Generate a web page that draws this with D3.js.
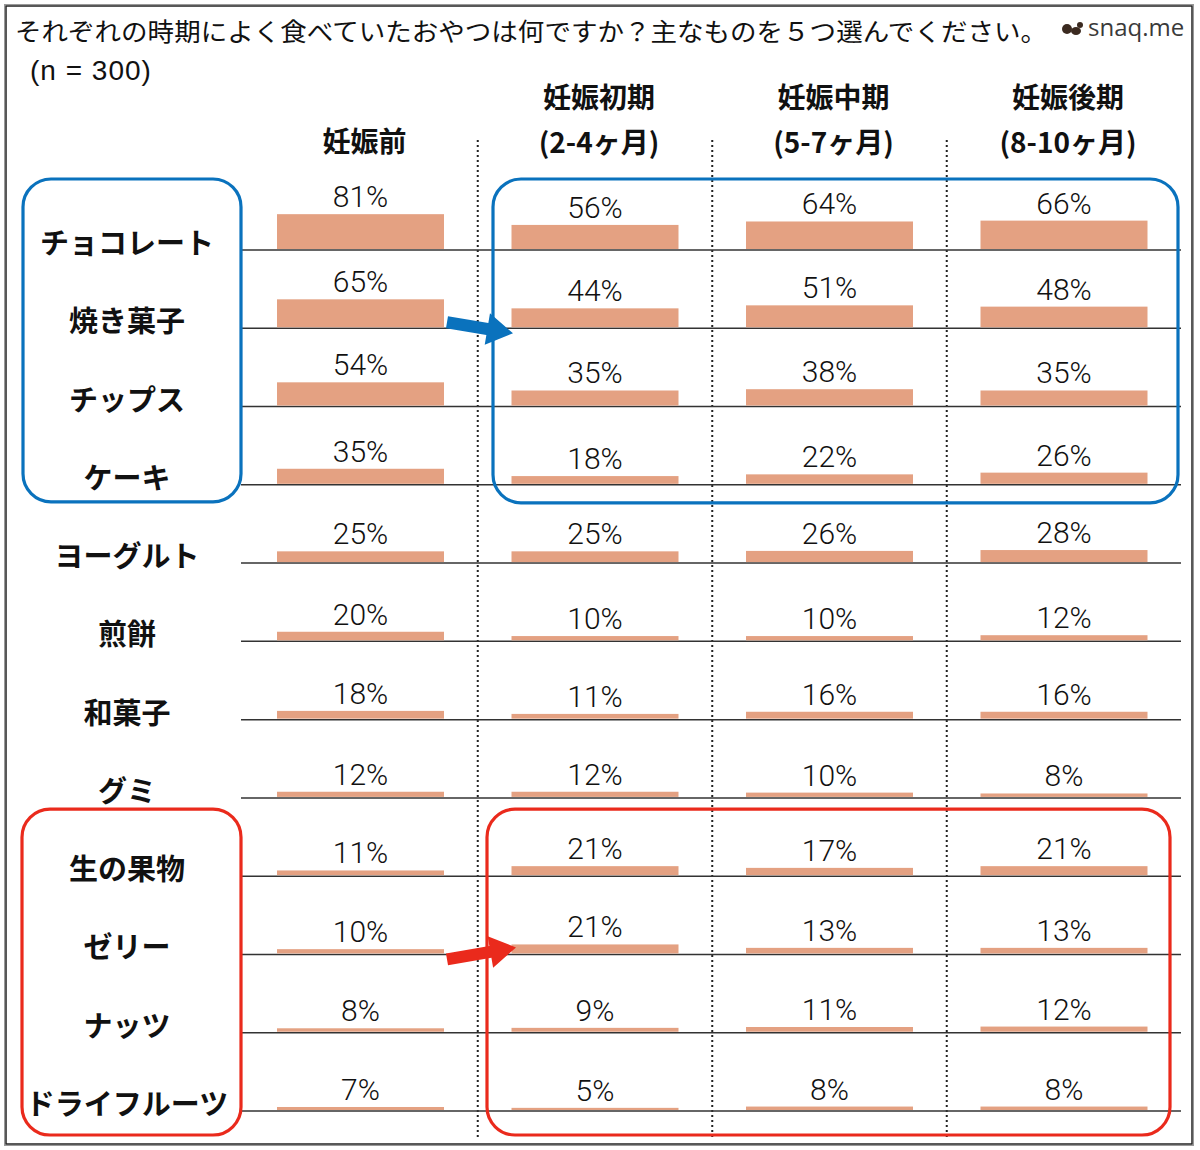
<!DOCTYPE html>
<html>
<head>
<meta charset="utf-8">
<script src="https://cdn.jsdelivr.net/npm/d3@7"></script>
<style>
  html, body { margin: 0; padding: 0; background: #fff; }
  svg { display: block; }
</style>
</head>
<body>
<svg id="chart" width="1200" height="1150"></svg>
<script>
// ---------- data ----------
const title = "それぞれの時期によく食べていたおやつは何ですか？主なものを５つ選んでください。";
const sampleNote = "(n = 300)";
const categories = ["チョコレート", "焼き菓子", "チップス", "ケーキ", "ヨーグルト", "煎餅", "和菓子", "グミ", "生の果物", "ゼリー", "ナッツ", "ドライフルーツ"];
const periods = ["before", "early", "mid", "late"];
const periodLabels = [["妊娠前"], ["妊娠初期", "(2-4ヶ月)"], ["妊娠中期", "(5-7ヶ月)"], ["妊娠後期", "(8-10ヶ月)"]];
const valuesBefore = [81, 65, 54, 35, 25, 20, 18, 12, 11, 10, 8, 7];
const valuesEarly  = [56, 44, 35, 18, 25, 10, 11, 12, 21, 21, 9, 5];
const valuesMid    = [64, 51, 38, 22, 26, 10, 16, 10, 17, 13, 11, 8];
const valuesLate   = [66, 48, 35, 26, 28, 12, 16, 8, 21, 13, 12, 8];
const seriesValues = [valuesBefore, valuesEarly, valuesMid, valuesLate];

// ---------- layout ----------
const svg = d3.select("#chart");
const BAR_COLOR = "#E4A182";
const BLUE = "#0A72BD";
const RED = "#EA2A1C";
const barW = 167;

const xCol = d3.scalePoint().domain(periods).range([360.5, 1064]);
const yRow = d3.scalePoint().domain(categories).range([250, 1111]);
const hScale = d3.scaleLinear().domain([0, 100]).range([0, 43]);

const jp = "'Noto Sans CJK JP', 'Noto Sans', sans-serif";
const num = "'Roboto', 'Liberation Sans', sans-serif";

// outer frame
svg.append("rect").attr("x", 4.5).attr("y", 4.5).attr("width", 1189).attr("height", 1141)
  .attr("fill", "none").attr("stroke", "#999").attr("stroke-width", 1);
svg.append("rect").attr("x", 6).attr("y", 6).attr("width", 1186).attr("height", 1138)
  .attr("fill", "none").attr("stroke", "#222").attr("stroke-width", 1.5);

// title
svg.append("text").attr("x", 15).attr("y", 41)
  .attr("font-family", jp).attr("font-size", 25).attr("fill", "#111")
  .attr("textLength", 1032).attr("lengthAdjust", "spacingAndGlyphs")
  .text(title);
svg.append("text").attr("x", 30).attr("y", 80)
  .attr("font-family", "'Liberation Sans', sans-serif").attr("font-size", 28).attr("fill", "#111")
  .attr("letter-spacing", 1)
  .text(sampleNote);

// logo
const logo = svg.append("g").attr("transform", "translate(1063,28)");
logo.append("ellipse").attr("cx", 4).attr("cy", 1).attr("rx", 5).attr("ry", 5).attr("fill", "#3b2a20");
logo.append("ellipse").attr("cx", 13).attr("cy", 3).attr("rx", 5).attr("ry", 4).attr("fill", "#3b2a20");
logo.append("circle").attr("cx", 17).attr("cy", -3).attr("r", 3).attr("fill", "#3b2a20");
svg.append("text").attr("x", 1088).attr("y", 36)
  .attr("font-family", "'Open Sans', 'Liberation Sans', sans-serif").attr("font-size", 24)
  .attr("fill", "#3a3a3a").text("snaq.me");

// column headers
periods.forEach((p, i) => {
  const lines = periodLabels[i];
  const g = svg.append("text")
    .attr("font-family", jp).attr("font-weight", 700).attr("font-size", 28)
    .attr("fill", "#111").attr("text-anchor", "middle");
  lines.forEach((ln, j) => {
    const yy = lines.length === 1 ? 152 : 108 + j * 45;
    g.append("tspan").attr("x", xCol(p) + 4).attr("y", yy).text(ln);
  });
});

// dotted separators between columns
const seps = d3.pairs(periods).map(([a, b]) => (xCol(a) + xCol(b)) / 2);
svg.selectAll("line.sep").data(seps).join("line").attr("class", "sep")
  .attr("x1", d => d).attr("x2", d => d).attr("y1", 140).attr("y2", 1140)
  .attr("stroke", "#222").attr("stroke-width", 2).attr("stroke-dasharray", "2,3");

// row baselines
svg.selectAll("line.row").data(categories).join("line").attr("class", "row")
  .attr("x1", 241).attr("x2", 1181)
  .attr("y1", d => yRow(d)).attr("y2", d => yRow(d))
  .attr("stroke", "#333").attr("stroke-width", 1.5);

// row labels
svg.selectAll("text.cat").data(categories).join("text").attr("class", "cat")
  .attr("x", 127).attr("y", d => yRow(d) + 4)
  .attr("text-anchor", "middle")
  .attr("font-family", jp).attr("font-weight", 700).attr("font-size", 29).attr("fill", "#111")
  .text(d => d);

// bars + labels
const cells = [];
periods.forEach((p, i) => categories.forEach((c, j) => cells.push({ p, c, v: seriesValues[i][j] })));

svg.selectAll("rect.bar").data(cells).join("rect").attr("class", "bar")
  .attr("x", d => xCol(d.p) - barW / 2).attr("width", barW)
  .attr("y", d => yRow(d.c) - 1 - hScale(d.v)).attr("height", d => hScale(d.v))
  .attr("fill", BAR_COLOR);

svg.selectAll("text.val").data(cells).join("text").attr("class", "val")
  .attr("x", d => xCol(d.p)).attr("y", d => yRow(d.c) - 1 - hScale(d.v) - 7)
  .attr("text-anchor", "middle")
  .attr("font-family", num).attr("font-weight", 300).attr("font-size", 30).attr("fill", "#111")
  .text(d => d.v + "%");

// highlight boxes
function box(x0, x1, cTop, cBot, topOff, botOff, color) {
  svg.append("rect")
    .attr("x", x0).attr("y", yRow(cTop) - topOff)
    .attr("width", x1 - x0).attr("height", yRow(cBot) + botOff - (yRow(cTop) - topOff))
    .attr("rx", 28).attr("ry", 28)
    .attr("fill", "none").attr("stroke", color).attr("stroke-width", 3.2);
}
box(23, 241, categories[0], categories[3], 71, 17, BLUE);
box(493, 1178, categories[0], categories[3], 71, 18, BLUE);
box(22, 241, categories[8], categories[11], 67, 24, RED);
box(487, 1170, categories[8], categories[11], 67, 24, RED);

// arrows
function arrow(x0, y0, x1, y1, color) {
  const dx = x1 - x0, dy = y1 - y0, L = Math.hypot(dx, dy);
  const ux = dx / L, uy = dy / L, nx = -uy, ny = ux;
  const headL = 26, shaftW = 6, headW = 16;
  const bx = x1 - ux * headL, by = y1 - uy * headL;
  const pts = [
    [x0 + nx * shaftW, y0 + ny * shaftW],
    [bx + nx * shaftW, by + ny * shaftW],
    [bx + nx * headW, by + ny * headW],
    [x1, y1],
    [bx - nx * headW, by - ny * headW],
    [bx - nx * shaftW, by - ny * shaftW],
    [x0 - nx * shaftW, y0 - ny * shaftW]
  ];
  svg.append("polygon").attr("points", pts.map(p => p.join(",")).join(" ")).attr("fill", color);
}
arrow(447, yRow(categories[1]) - 6, 513, yRow(categories[1]) + 5, BLUE);
arrow(447, yRow(categories[9]) + 5, 516, yRow(categories[9]) - 7, RED);
</script>
</body>
</html>
